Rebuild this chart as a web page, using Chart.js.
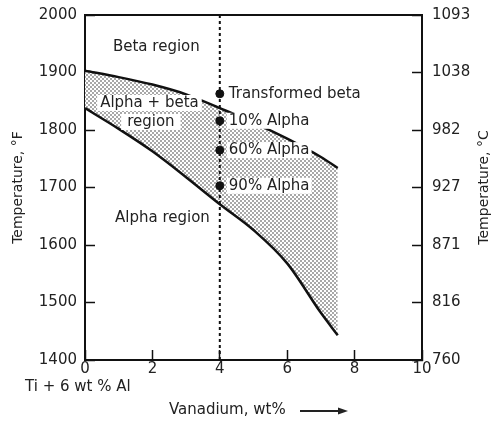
<!DOCTYPE html>
<html>
<head>
<meta charset="utf-8">
<script src="https://cdn.jsdelivr.net/npm/chart.js@4.4.1/dist/chart.umd.min.js"></script>
<style>
  html, body { margin: 0; padding: 0; background: #fff; }
  #wrap { width: 496px; height: 421px; }
</style>
</head>
<body>
<div id="wrap"><canvas id="phaseChart"></canvas></div>
<script>
// Ti-6Al-V phase diagram
const vanadium = [0, 1, 2, 3, 4, 5, 6, 7, 7.5];                         // wt% V
const betaTransus = [1903, 1892, 1879, 1862, 1838, 1813, 1785, 1753, 1734]; // upper line, °F
const alphaLine = [1838, 1802, 1763, 1718, 1671, 1626, 1568, 1482, 1443];   // lower line, °F
const sampleV = 4;
const sampleTemps = [1863, 1816, 1765, 1703];
const sampleNames = ['Transformed beta', '10% Alpha', '60% Alpha', '90% Alpha'];
const fahrenheitTicks = [1400, 1500, 1600, 1700, 1800, 1900, 2000];
const celsiusTicks = ['760', '816', '871', '927', '982', '1038', '1093'];
const vTicks = [0, 2, 4, 6, 8, 10];

const FONT = 'DejaVu Sans';
const INK = '#222';

// region labels [text, x (wt%), y (°F)], left aligned
const regionLabels = [
  ['Beta region', 0.83, 1944],
  ['Alpha region', 0.89, 1647]
];

// stipple for the alpha + beta field
function stipple() {
  const c = document.createElement('canvas');
  c.width = 4; c.height = 4;
  const g = c.getContext('2d');
  g.fillStyle = '#fff';
  g.fillRect(0, 0, 4, 4);
  g.fillStyle = '#a8a8a8';
  g.fillRect(0, 0, 2, 2);
  g.fillRect(2, 2, 2, 2);
  return g.createPattern(c, 'repeat');
}

function boxedText(ctx, text, x, y, pad) {
  const w = ctx.measureText(text).width;
  ctx.fillStyle = '#fff';
  ctx.fillRect(x - pad, y - 8, w + pad * 2, 16);
  ctx.fillStyle = INK;
  ctx.fillText(text, x, y);
}

const annotations = {
  id: 'annotations',
  afterDatasetsDraw(chart) {
    const ctx = chart.ctx;
    const xs = chart.scales.x, ys = chart.scales.y;
    const area = chart.chartArea;
    ctx.save();

    // top frame line
    ctx.strokeStyle = '#111';
    ctx.lineWidth = 2;
    ctx.beginPath();
    ctx.moveTo(area.left, area.top);
    ctx.lineTo(area.right, area.top);
    ctx.stroke();

    ctx.font = '15px "' + FONT + '"';
    ctx.textBaseline = 'middle';
    ctx.textAlign = 'left';
    ctx.fillStyle = INK;
    regionLabels.forEach(([t, v, f]) => {
      ctx.fillText(t, xs.getPixelForValue(v), ys.getPixelForValue(f));
    });

    // alpha + beta label sits on the stipple, white boxes behind it
    boxedText(ctx, 'Alpha + beta', xs.getPixelForValue(0.45), ys.getPixelForValue(1847), 3);
    boxedText(ctx, 'region', xs.getPixelForValue(1.25), ys.getPixelForValue(1814), 6);

    // labels for the points on the 4 wt% line
    const lx = xs.getPixelForValue(sampleV) + 9;
    sampleTemps.forEach((f, i) => {
      boxedText(ctx, sampleNames[i], lx, ys.getPixelForValue(f), 2);
    });

    // base alloy note under the origin
    ctx.fillStyle = INK;
    ctx.fillText('Ti + 6 wt % Al', 25, area.bottom + 27);

    // arrow after the x title
    const ay = area.bottom + 51;
    ctx.strokeStyle = INK;
    ctx.lineWidth = 2;
    ctx.beginPath();
    ctx.moveTo(300, ay);
    ctx.lineTo(342, ay);
    ctx.stroke();
    ctx.beginPath();
    ctx.moveTo(348, ay);
    ctx.lineTo(338, ay - 3.5);
    ctx.lineTo(338, ay + 3.5);
    ctx.closePath();
    ctx.fill();

    // right axis title reads bottom to top
    ctx.font = '14px "' + FONT + '"';
    ctx.translate(484, (area.top + area.bottom) / 2);
    ctx.rotate(-Math.PI / 2);
    ctx.textAlign = 'center';
    ctx.fillText('Temperature, °C', 0, 0);
    ctx.restore();
  }
};

const tickFont = { family: FONT, size: 15 };
const inwardGrid = {
  drawOnChartArea: false,
  drawTicks: true,
  tickLength: -10,
  tickWidth: 1.5,
  tickColor: '#111'
};
const frame = { display: true, color: '#111', width: 2 };

// fixed vertical axis width, without the label overhang padding
function fixWidth(w) {
  return s => { s.width = w; s.paddingTop = 0; s.paddingBottom = 0; };
}

new Chart(document.getElementById('phaseChart'), {
  type: 'line',
  data: {
    datasets: [
      {
        label: 'Beta transus',
        data: vanadium.map((v, i) => ({ x: v, y: betaTransus[i] })),
        borderColor: '#111',
        borderWidth: 2.5,
        pointRadius: 0,
        cubicInterpolationMode: 'monotone',
        fill: false
      },
      {
        label: 'Alpha boundary',
        data: vanadium.map((v, i) => ({ x: v, y: alphaLine[i] })),
        borderColor: '#111',
        borderWidth: 2.5,
        pointRadius: 0,
        cubicInterpolationMode: 'monotone',
        backgroundColor: stipple(),
        fill: 0
      },
      {
        label: '4 wt% V',
        data: [{ x: sampleV, y: fahrenheitTicks[0] }, { x: sampleV, y: fahrenheitTicks[fahrenheitTicks.length - 1] }],
        borderColor: '#111',
        borderWidth: 2,
        borderDash: [3, 3],
        pointRadius: 0,
        fill: false
      },
      {
        label: 'Samples',
        data: sampleTemps.map(f => ({ x: sampleV, y: f })),
        showLine: false,
        pointRadius: 4,
        pointBackgroundColor: '#111',
        pointBorderColor: '#111',
        fill: false
      }
    ]
  },
  options: {
    responsive: true,
    maintainAspectRatio: false,
    animation: false,
    layout: { padding: { top: 15 } },
    plugins: {
      legend: { display: false },
      tooltip: { enabled: false },
      filler: { drawTime: 'beforeDatasetsDraw' }
    },
    scales: {
      x: {
        type: 'linear',
        min: 0, max: 10,
        afterBuildTicks: s => { s.ticks = vTicks.map(v => ({ value: v })); },
        afterFit: s => { s.height = 61; },
        grid: inwardGrid,
        border: frame,
        ticks: { font: tickFont, color: INK, padding: 10, autoSkip: false, maxRotation: 0 },
        title: {
          display: true,
          text: 'Vanadium, wt%           ',
          font: { family: FONT, size: 15 },
          color: INK,
          padding: { top: 0, bottom: 2 }
        }
      },
      y: {
        min: 1400, max: 2000,
        afterBuildTicks: s => { s.ticks = fahrenheitTicks.map(v => ({ value: v })); },
        afterFit: fixWidth(85),
        grid: inwardGrid,
        border: frame,
        ticks: { font: tickFont, color: INK, padding: 18, callback: v => String(v) },
        title: {
          display: true,
          text: 'Temperature, °F',
          font: { family: FONT, size: 14 },
          color: INK,
          padding: { top: 10, bottom: 0 }
        }
      },
      y2: {
        position: 'right',
        min: 1400, max: 2000,
        afterBuildTicks: s => { s.ticks = fahrenheitTicks.map(v => ({ value: v })); },
        afterFit: fixWidth(74),
        grid: inwardGrid,
        border: frame,
        ticks: {
          font: tickFont, color: INK, padding: 20,
          callback: (v, i) => celsiusTicks[i]
        }
      }
    }
  },
  plugins: [annotations]
});
</script>
</body>
</html>
